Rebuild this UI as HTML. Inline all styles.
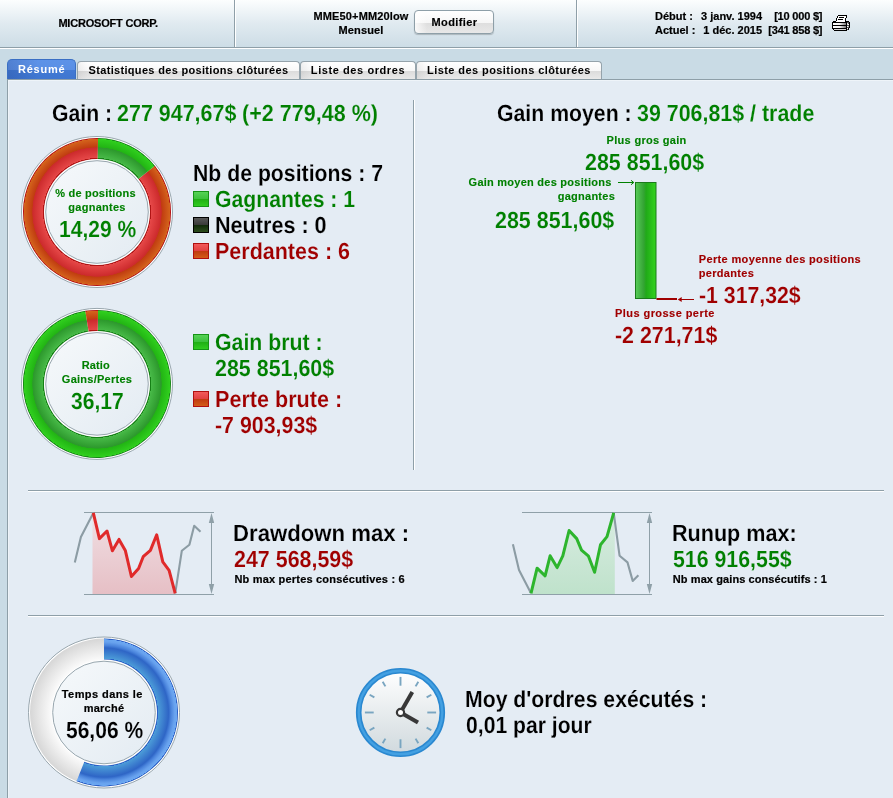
<!DOCTYPE html>
<html><head><meta charset="utf-8"><title>Résumé</title>
<style>
html,body{margin:0;padding:0}
body{width:893px;height:798px;overflow:hidden;background:#c9dbe5;position:relative;font-family:"Liberation Sans",Arial,sans-serif;font-weight:bold}
.s{position:absolute;white-space:nowrap;font-weight:bold;font-size:11px;line-height:14px;-webkit-text-stroke:0.12px}
.b{position:absolute;white-space:nowrap;font-weight:bold;font-size:23.26px;line-height:28px;text-rendering:geometricPrecision;font-kerning:none;transform-origin:0 0}
.g{color:#008000}
#hdr{position:absolute;left:0;top:0;width:893px;height:47px;background:linear-gradient(#fcfefe,#e0eaf0 50%,#cddde6);border-bottom:1px solid #8e9fa8;box-shadow:0 1px 0 #fff}
.vd{position:absolute;top:0;width:1px;height:47px;background:#8e9fa8;box-shadow:1px 0 0 #fff}
#btn{position:absolute;left:414px;top:10px;width:78px;height:22px;border:1px solid #8e9fa8;border-radius:4px;background:linear-gradient(90deg,rgba(255,255,255,.8),rgba(255,255,255,0) 12px),linear-gradient(#ffffff 0%,#f6f6f6 54%,#dedede 55%,#e8e8e8 100%);box-shadow:0 1px 1px rgba(0,0,0,.2);font-size:11px;line-height:22px;text-align:center;letter-spacing:.38px;text-indent:1px;-webkit-text-stroke:.15px}
#panel{position:absolute;left:7px;top:79px;width:886px;height:719px;background:#e4ecf4;border-left:1px solid #8e9fa8;border-top:1px solid #8e9fa8;box-shadow:inset 1px 1px 0 #eef4f9}
.tab{position:absolute;top:61px;height:18px;box-sizing:border-box;border:1px solid #95a3ab;border-bottom:none;border-radius:4px 4px 0 0;font-size:11px;line-height:17px;text-align:center;white-space:nowrap;background:linear-gradient(90deg,rgba(0,0,0,.05),rgba(0,0,0,0) 10px),linear-gradient(#ffffff 0%,#f7f7f7 54%,#dcdcdc 55%,#e9e9e9 100%)}
#tab1{left:7px;top:59px;width:69px;-webkit-text-stroke:0;height:20px;border:1px solid #3a6fc4;border-bottom:none;border-radius:5px 5px 0 0;background:linear-gradient(90deg,rgba(0,0,60,.13),rgba(0,0,60,0) 30px),linear-gradient(#5d93e8 0%,#5a8fe4 53%,#427ad4 54%,#3f76d0 100%);color:#fff;line-height:19px;letter-spacing:.8px;text-indent:.5px}
.sq{position:absolute;width:14px;height:14px;border:1px solid}
.hr{position:absolute;left:28px;width:856px;height:1px;background:#8e9fa8;box-shadow:0 1px 0 #fff}
#vr{position:absolute;left:413px;top:100px;width:1px;height:370px;background:#8e9fa8;box-shadow:1px 0 0 #fff}
svg{position:absolute;left:0;top:0}
</style></head><body>
<div id="hdr"><div class="vd" style="left:234px"></div><div class="vd" style="left:576px"></div></div>
<div id="btn">Modifier</div>
<svg style="position:absolute;left:832px;top:14px" width="19" height="18" viewBox="0 0 19 18" shape-rendering="crispEdges"><defs><linearGradient id="pg" x1="0" x2="1"><stop offset="0" stop-color="#fff"/><stop offset="0.5" stop-color="#f6f6f6"/><stop offset="1" stop-color="#7a7a7a"/></linearGradient></defs><rect x="6" y="1" width="9" height="1" fill="#000"/><rect x="5" y="2" width="1" height="2" fill="#000"/><rect x="6" y="2" width="8" height="2" fill="#fff"/><rect x="14" y="2" width="1" height="2" fill="#000"/><rect x="7" y="3" width="5" height="1" fill="#000"/><rect x="4" y="4" width="1" height="3" fill="#000"/><rect x="5" y="4" width="8" height="3" fill="#fff"/><rect x="13" y="4" width="1" height="3" fill="#000"/><rect x="6" y="5" width="5" height="1" fill="#000"/><rect x="1" y="7" width="3" height="1" fill="#000"/><rect x="4" y="7" width="9" height="1" fill="#fff"/><rect x="13" y="7" width="4" height="1" fill="#000"/><rect x="0" y="8" width="15" height="1" fill="#000"/><rect x="0" y="9" width="1" height="6" fill="#000"/><rect x="14" y="9" width="1" height="7" fill="#000"/><rect x="1" y="9" width="13" height="2" fill="url(#pg)"/><rect x="0" y="11" width="15" height="1" fill="#000"/><rect x="1" y="12" width="13" height="2" fill="url(#pg)"/><rect x="0" y="14" width="15" height="1" fill="#000"/><rect x="1" y="15" width="1" height="1" fill="#000"/><rect x="2" y="15" width="12" height="1" fill="#d8d8d8"/><rect x="2" y="16" width="13" height="1" fill="#000"/><rect x="15" y="8" width="2" height="6" fill="#555"/><rect x="17" y="8" width="1" height="6" fill="#000"/><rect x="15" y="14" width="1" height="2" fill="#555"/><rect x="16" y="14" width="1" height="1" fill="#000"/><rect x="15" y="16" width="0" height="0" fill="#000"/><rect x="16" y="15" width="1" height="1" fill="#000"/><rect x="15" y="9" width="1" height="2" fill="#e0e0e0"/><rect x="16" y="10" width="1" height="1" fill="#fff"/><rect x="15" y="12" width="1" height="1" fill="#fff"/><rect x="16" y="12" width="1" height="1" fill="#bbb"/><rect x="15" y="14" width="1" height="1" fill="#fff"/></svg>
<div id="panel"></div>
<div class="tab" id="tab1">Résumé</div>
<div class="tab" style="left:77px;width:223px;letter-spacing:.32px">Statistiques des positions clôturées</div>
<div class="tab" style="left:300px;width:116px;letter-spacing:.58px">Liste des ordres</div>
<div class="tab" style="left:416px;width:186px;letter-spacing:.42px">Liste des positions clôturées</div>
<div id="vr"></div><div class="hr" style="top:490px"></div><div class="hr" style="top:615px"></div>
<svg width="893" height="798" viewBox="0 0 893 798">
<defs><radialGradient id="d1r" gradientUnits="userSpaceOnUse" cx="97" cy="212" r="74"><stop offset="0.7162" stop-color="#b01414"/><stop offset="0.7284" stop-color="#b01414"/><stop offset="0.7297" stop-color="#e64848"/><stop offset="0.8703" stop-color="#cc2a2c"/><stop offset="0.8757" stop-color="#c03c10"/><stop offset="0.9865" stop-color="#d4641c"/><stop offset="0.9892" stop-color="#b81414"/><stop offset="1.0000" stop-color="#b81414"/></radialGradient><radialGradient id="d1g" gradientUnits="userSpaceOnUse" cx="97" cy="212" r="74"><stop offset="0.7162" stop-color="#168016"/><stop offset="0.7284" stop-color="#168016"/><stop offset="0.7297" stop-color="#48ba48"/><stop offset="0.8703" stop-color="#2c982c"/><stop offset="0.8757" stop-color="#22b414"/><stop offset="0.9865" stop-color="#30d01e"/><stop offset="0.9892" stop-color="#168a16"/><stop offset="1.0000" stop-color="#168a16"/></radialGradient><radialGradient id="d1trk" gradientUnits="userSpaceOnUse" cx="97" cy="212" r="74"><stop offset="0.70" stop-color="#fcfcfc"/><stop offset="1" stop-color="#d6d6d6"/></radialGradient><linearGradient id="d1in" x1="0" y1="0" x2="1" y2="1"><stop offset="0" stop-color="#f6f9fb"/><stop offset="1" stop-color="#e3ebf2"/></linearGradient></defs><circle cx="97" cy="212" r="75.5" fill="#fff" stroke="#98a6ae" stroke-width="1"/><circle cx="97" cy="212" r="74" fill="url(#d1trk)"/><path d="M154.86,165.87A74,74 0 1 1 98.03,138.01L97.74,159.01A53,53 0 1 0 138.44,178.96Z" fill="url(#d1r)"/><path d="M98.03,138.01A74,74 0 0 1 154.86,165.87L138.44,178.96A53,53 0 0 0 97.74,159.01Z" fill="url(#d1g)"/><circle cx="97" cy="212" r="52.5" fill="#fff"/><circle cx="97" cy="212" r="51.3" fill="url(#d1in)" stroke="#98a6ae" stroke-width="1"/>
<defs><radialGradient id="d2g" gradientUnits="userSpaceOnUse" cx="97" cy="383.9" r="74"><stop offset="0.7162" stop-color="#168016"/><stop offset="0.7284" stop-color="#168016"/><stop offset="0.7297" stop-color="#48ba48"/><stop offset="0.8703" stop-color="#2c982c"/><stop offset="0.8757" stop-color="#22b414"/><stop offset="0.9865" stop-color="#30d01e"/><stop offset="0.9892" stop-color="#168a16"/><stop offset="1.0000" stop-color="#168a16"/></radialGradient><radialGradient id="d2r" gradientUnits="userSpaceOnUse" cx="97" cy="383.9" r="74"><stop offset="0.7162" stop-color="#b01414"/><stop offset="0.7284" stop-color="#b01414"/><stop offset="0.7297" stop-color="#e64848"/><stop offset="0.8703" stop-color="#cc2a2c"/><stop offset="0.8757" stop-color="#c03c10"/><stop offset="0.9865" stop-color="#d4641c"/><stop offset="0.9892" stop-color="#b81414"/><stop offset="1.0000" stop-color="#b81414"/></radialGradient><radialGradient id="d2trk" gradientUnits="userSpaceOnUse" cx="97" cy="383.9" r="74"><stop offset="0.70" stop-color="#fcfcfc"/><stop offset="1" stop-color="#d6d6d6"/></radialGradient><linearGradient id="d2in" x1="0" y1="0" x2="1" y2="1"><stop offset="0" stop-color="#f6f9fb"/><stop offset="1" stop-color="#e3ebf2"/></linearGradient></defs><circle cx="97" cy="383.9" r="75.5" fill="#fff" stroke="#98a6ae" stroke-width="1"/><circle cx="97" cy="383.9" r="74" fill="url(#d2trk)"/><path d="M98.03,309.91A74,74 0 1 1 85.30,310.83L88.62,331.57A53,53 0 1 0 97.74,330.91Z" fill="url(#d2g)"/><path d="M85.30,310.83A74,74 0 0 1 98.03,309.91L97.74,330.91A53,53 0 0 0 88.62,331.57Z" fill="url(#d2r)"/><circle cx="97" cy="383.9" r="52.5" fill="#fff"/><circle cx="97" cy="383.9" r="51.3" fill="url(#d2in)" stroke="#98a6ae" stroke-width="1"/>
<defs><radialGradient id="d3b" gradientUnits="userSpaceOnUse" cx="104" cy="712.5" r="74"><stop offset="0.7162" stop-color="#2a62c8"/><stop offset="0.7284" stop-color="#2a62c8"/><stop offset="0.7297" stop-color="#4c9cd8"/><stop offset="0.8703" stop-color="#2f66c6"/><stop offset="0.8757" stop-color="#3068c8"/><stop offset="0.9068" stop-color="#4a84dc"/><stop offset="0.9541" stop-color="#68a2ee"/><stop offset="0.9865" stop-color="#6ba8f2"/><stop offset="0.9892" stop-color="#2a60c8"/><stop offset="1.0000" stop-color="#2a60c8"/></radialGradient><radialGradient id="d3trk" gradientUnits="userSpaceOnUse" cx="104" cy="712.5" r="74"><stop offset="0.70" stop-color="#fcfcfc"/><stop offset="1" stop-color="#d6d6d6"/></radialGradient><linearGradient id="d3in" x1="0" y1="0" x2="1" y2="1"><stop offset="0" stop-color="#f6f9fb"/><stop offset="1" stop-color="#e3ebf2"/></linearGradient></defs><circle cx="104" cy="712.5" r="75.5" fill="#fff" stroke="#98a6ae" stroke-width="1"/><circle cx="104" cy="712.5" r="74" fill="url(#d3trk)"/><path d="M104.00,638.50A74,74 0 1 1 76.52,781.21L84.32,761.71A53,53 0 1 0 104.00,659.50Z" fill="url(#d3b)"/><circle cx="104" cy="712.5" r="52.5" fill="#fff"/><circle cx="104" cy="712.5" r="51.3" fill="url(#d3in)" stroke="#98a6ae" stroke-width="1"/>
<defs><linearGradient id="bar" x1="0" x2="1" y1="0" y2="0"><stop offset="0" stop-color="#58cc58"/><stop offset="0.40" stop-color="#34a434"/><stop offset="0.52" stop-color="#20aa18"/><stop offset="1" stop-color="#34d41e"/></linearGradient></defs>
<rect x="635.5" y="182.5" width="20.5" height="116" fill="url(#bar)" stroke="#1a7a1a" stroke-width="1"/>
<rect x="656.5" y="298" width="20.5" height="2" fill="#a00000"/>
<path d="M618,182.5H633.5M631,180.3L633.8,182.5L631,184.7" fill="none" stroke="#008000" stroke-width="1"/>
<path d="M694,299.5H679" fill="none" stroke="#a00000" stroke-width="1"/><path d="M677.7,299.5L681.7,297V302Z" fill="#a00000"/>
<defs><linearGradient id="ddf" x1="0" x2="0" y1="0" y2="1"><stop offset="0" stop-color="#f0e0e4"/><stop offset="1" stop-color="#e6bfc5"/></linearGradient><linearGradient id="ruf" x1="0" x2="0" y1="0" y2="1"><stop offset="0" stop-color="#d9ece2"/><stop offset="1" stop-color="#bfe2cb"/></linearGradient></defs>
<polygon points="93.3,512.9 99.4,538.6 107,531 112.4,550.8 119,539.4 125.3,550.4 131.4,576.5 138.6,568.5 143.2,556.7 150.4,550.4 156.7,534.8 162.8,561.9 169.1,570.4 175.2,593.3 175.2,594 92.5,594 92.5,513" fill="url(#ddf)"/><path d="M84,512.5H214M84,594.5H214" stroke="#8fa0a8" stroke-width="1" fill="none"/><path d="M211.5,520V587" stroke="#8fa0a8" stroke-width="1" fill="none"/><path d="M211.5,513L208.8,523H214.2ZM211.5,594L208.8,584H214.2Z" fill="#8fa0a8"/><polyline points="74.8,562.4 80.9,537.1 93.3,512.9" fill="none" stroke="#8c9ca4" stroke-width="2.1" stroke-linejoin="round"/><polyline points="175.2,593.3 181.8,550.8 189.4,544.7 194.2,525.7 200.5,531.8" fill="none" stroke="#8c9ca4" stroke-width="2.1" stroke-linejoin="round"/><polyline points="93.3,512.9 99.4,538.6 107,531 112.4,550.8 119,539.4 125.3,550.4 131.4,576.5 138.6,568.5 143.2,556.7 150.4,550.4 156.7,534.8 162.8,561.9 169.1,570.4 175.2,593.3" fill="none" stroke="#e02a2a" stroke-width="3" stroke-linejoin="round" stroke-linecap="butt"/>
<polygon points="531,593.3 537.1,568.2 545.1,575.8 550.1,555.8 557.1,567.6 562.8,555.8 569.1,530.5 576.7,538.6 581.5,550.1 588.5,556.2 594.6,572.3 600.5,544.7 607,536.6 613.7,512.9 614.8,513 614.8,594 531,594" fill="url(#ruf)"/><path d="M522,512.5H652M522,594.5H652" stroke="#8fa0a8" stroke-width="1" fill="none"/><path d="M649.5,520V587" stroke="#8fa0a8" stroke-width="1" fill="none"/><path d="M649.5,513L646.8,523H652.2ZM649.5,594L646.8,584H652.2Z" fill="#8fa0a8"/><polyline points="512.9,544.2 519,569.9 531,593.3" fill="none" stroke="#8c9ca4" stroke-width="2.1" stroke-linejoin="round"/><polyline points="613.7,512.9 619.6,555.8 627.5,562.4 632.7,580.9 638.4,575.2" fill="none" stroke="#8c9ca4" stroke-width="2.1" stroke-linejoin="round"/><polyline points="531,593.3 537.1,568.2 545.1,575.8 550.1,555.8 557.1,567.6 562.8,555.8 569.1,530.5 576.7,538.6 581.5,550.1 588.5,556.2 594.6,572.3 600.5,544.7 607,536.6 613.7,512.9" fill="none" stroke="#2db52d" stroke-width="3" stroke-linejoin="round" stroke-linecap="butt"/>
<defs><linearGradient id="cf" x1="0" x2="0" y1="0" y2="1"><stop offset="0" stop-color="#ffffff"/><stop offset="1" stop-color="#d0d9dd"/></linearGradient></defs><circle cx="400.5" cy="712.5" r="41.8" fill="url(#cf)" stroke="#2a88d0" stroke-width="5.6"/><circle cx="400.5" cy="712.5" r="41.8" fill="none" stroke="#43a0e2" stroke-width="2.4"/><line x1="400.50" y1="685.70" x2="400.50" y2="676.90" stroke="#79a5c0" stroke-width="1.9"/><line x1="415.60" y1="686.35" x2="418.30" y2="681.67" stroke="#79a5c0" stroke-width="1.9"/><line x1="426.65" y1="697.40" x2="431.33" y2="694.70" stroke="#79a5c0" stroke-width="1.9"/><line x1="427.30" y1="712.50" x2="436.10" y2="712.50" stroke="#79a5c0" stroke-width="1.9"/><line x1="426.65" y1="727.60" x2="431.33" y2="730.30" stroke="#79a5c0" stroke-width="1.9"/><line x1="415.60" y1="738.65" x2="418.30" y2="743.33" stroke="#79a5c0" stroke-width="1.9"/><line x1="400.50" y1="739.30" x2="400.50" y2="748.10" stroke="#79a5c0" stroke-width="1.9"/><line x1="385.40" y1="738.65" x2="382.70" y2="743.33" stroke="#79a5c0" stroke-width="1.9"/><line x1="374.35" y1="727.60" x2="369.67" y2="730.30" stroke="#79a5c0" stroke-width="1.9"/><line x1="373.70" y1="712.50" x2="364.90" y2="712.50" stroke="#79a5c0" stroke-width="1.9"/><line x1="374.35" y1="697.40" x2="369.67" y2="694.70" stroke="#79a5c0" stroke-width="1.9"/><line x1="385.40" y1="686.35" x2="382.70" y2="681.67" stroke="#79a5c0" stroke-width="1.9"/><line x1="400.5" y1="712.5" x2="412.3" y2="692" stroke="#383838" stroke-width="4"/><line x1="400.5" y1="712.5" x2="418" y2="722.6" stroke="#383838" stroke-width="4"/><circle cx="400.5" cy="712.5" r="3.6" fill="#fff" stroke="#383838" stroke-width="2.2"/>
</svg>
<div class="b" style="left:52.43px;top:99px;color:#000;transform:scaleX(0.9121);-webkit-text-stroke:0.14px #e4ecf4">Gain :</div>
<div class="b" style="left:117.06px;top:99px;color:#008000;transform:scaleX(0.9235);-webkit-text-stroke:0.14px #e4ecf4">277 947,67$</div>
<div class="b" style="left:241.93px;top:99px;color:#008000;transform:scaleX(0.9270);-webkit-text-stroke:0.14px #e4ecf4">(+2 779,48 %)</div>
<div class="b" style="left:497.23px;top:99px;color:#000;transform:scaleX(0.9143);-webkit-text-stroke:0.14px #e4ecf4">Gain moyen :</div>
<div class="b" style="left:636.61px;top:99px;color:#008000;transform:scaleX(0.9208);-webkit-text-stroke:0.14px #e4ecf4">39 706,81$ / trade</div>
<div class="b" style="left:192.98px;top:159px;color:#000;transform:scaleX(0.9135);-webkit-text-stroke:0.14px #e4ecf4">Nb de positions : 7</div>
<div class="b" style="left:215.23px;top:185px;color:#008000;transform:scaleX(0.9112);-webkit-text-stroke:0.14px #e4ecf4">Gagnantes : 1</div>
<div class="b" style="left:214.66px;top:211px;color:#000;transform:scaleX(0.9286);-webkit-text-stroke:0.14px #e4ecf4">Neutres : 0</div>
<div class="b" style="left:214.66px;top:237px;color:#a00000;transform:scaleX(0.9243);-webkit-text-stroke:0.14px #e4ecf4">Perdantes : 6</div>
<div class="sq" style="left:193px;top:191px;background:linear-gradient(#56d256 0%,#3cc03c 50%,#20ae14 50%,#30cc20 100%);border-color:#169416"></div>
<div class="sq" style="left:193px;top:217px;background:linear-gradient(#585858 0%,#383838 50%,#10280a 50%,#2c4c1c 100%);border-color:#000"></div>
<div class="sq" style="left:193px;top:243px;background:linear-gradient(#f25a5a 0%,#e04040 50%,#c03a10 50%,#d25c18 100%);border-color:#b01010"></div>
<div class="b" style="left:215.23px;top:328px;color:#008000;transform:scaleX(0.9161);-webkit-text-stroke:0.14px #e4ecf4">Gain brut :</div>
<div class="b" style="left:215.36px;top:354px;color:#008000;transform:scaleX(0.9219);-webkit-text-stroke:0.14px #e4ecf4">285 851,60$</div>
<div class="b" style="left:214.66px;top:385px;color:#a00000;transform:scaleX(0.9286);-webkit-text-stroke:0.14px #e4ecf4">Perte brute :</div>
<div class="b" style="left:215.26px;top:411px;color:#a00000;transform:scaleX(0.9192);-webkit-text-stroke:0.14px #e4ecf4">-7 903,93$</div>
<div class="sq" style="left:193px;top:334px;background:linear-gradient(#56d256 0%,#3cc03c 50%,#20ae14 50%,#30cc20 100%);border-color:#169416"></div>
<div class="sq" style="left:193px;top:391px;background:linear-gradient(#f25a5a 0%,#e04040 50%,#c03a10 50%,#d25c18 100%);border-color:#b01010"></div>
<div class="b" style="left:58.57px;top:215px;color:#008000;transform:scaleX(0.9055);-webkit-text-stroke:0.14px #e4ecf4">14,29 %</div>
<div class="b" style="left:70.62px;top:387px;color:#008000;transform:scaleX(0.9073);-webkit-text-stroke:0.14px #e4ecf4">36,17</div>
<div class="b" style="left:65.65px;top:716px;color:#000;transform:scaleX(0.9033);-webkit-text-stroke:0.14px #e4ecf4">56,06 %</div>
<div class="b" style="left:585.36px;top:148px;color:#008000;transform:scaleX(0.9219);-webkit-text-stroke:0.14px #e4ecf4">285 851,60$</div>
<div class="b" style="left:495.46px;top:206px;color:#008000;transform:scaleX(0.9227);-webkit-text-stroke:0.14px #e4ecf4">285 851,60$</div>
<div class="b" style="left:698.57px;top:281px;color:#a00000;transform:scaleX(0.9147);-webkit-text-stroke:0.14px #e4ecf4">-1 317,32$</div>
<div class="b" style="left:614.56px;top:321px;color:#a00000;transform:scaleX(0.9201);-webkit-text-stroke:0.14px #e4ecf4">-2 271,71$</div>
<div class="b" style="left:233.42px;top:519px;color:#000;transform:scaleX(0.9535);-webkit-text-stroke:0.14px #e4ecf4">Drawdown max :</div>
<div class="b" style="left:234.16px;top:545px;color:#a00000;transform:scaleX(0.9219);-webkit-text-stroke:0.14px #e4ecf4">247 568,59$</div>
<div class="b" style="left:671.86px;top:519px;color:#000;transform:scaleX(0.9273);-webkit-text-stroke:0.14px #e4ecf4">Runup max:</div>
<div class="b" style="left:672.64px;top:545px;color:#008000;transform:scaleX(0.9173);-webkit-text-stroke:0.14px #e4ecf4">516 916,55$</div>
<div class="b" style="left:465.18px;top:685px;color:#000;transform:scaleX(0.9130);-webkit-text-stroke:0.14px #e4ecf4">Moy d'ordres exécutés :</div>
<div class="b" style="left:465.76px;top:711px;color:#000;transform:scaleX(0.9092);-webkit-text-stroke:0.14px #e4ecf4">0,01 par jour</div>
<div class="s" style="top:186px;color:#008000;letter-spacing:0.2px;left:-104.50px;width:400px;text-align:center;">% de positions</div>
<div class="s" style="top:200px;color:#008000;letter-spacing:0.25px;left:-103.00px;width:400px;text-align:center;">gagnantes</div>
<div class="s" style="top:358px;color:#008000;letter-spacing:0.1px;left:-104.30px;width:400px;text-align:center;">Ratio</div>
<div class="s" style="top:372px;color:#008000;letter-spacing:0.25px;left:-103.00px;width:400px;text-align:center;">Gains/Pertes</div>
<div class="s" style="top:687px;color:#000;-webkit-text-stroke:.2px;letter-spacing:0.42px;left:-97.70px;width:400px;text-align:center;">Temps dans le</div>
<div class="s" style="top:701px;color:#000;-webkit-text-stroke:.2px;letter-spacing:0.25px;left:-96.00px;width:400px;text-align:center;">marché</div>
<div class="s" style="top:133px;color:#008000;letter-spacing:0.3px;left:606.60px;">Plus gros gain</div>
<div class="s" style="top:175px;color:#008000;letter-spacing:0.25px;right:281.50px;">Gain moyen des positions</div>
<div class="s" style="top:189px;color:#008000;letter-spacing:0.25px;right:278.00px;">gagnantes</div>
<div class="s" style="top:252px;color:#a00000;letter-spacing:0.35px;left:698.80px;">Perte moyenne des positions</div>
<div class="s" style="top:266px;color:#a00000;letter-spacing:0.3px;left:698.80px;">perdantes</div>
<div class="s" style="top:306px;color:#a00000;letter-spacing:0.44px;left:615.00px;">Plus grosse perte</div>
<div class="s" style="top:572px;color:#000;-webkit-text-stroke:.2px;letter-spacing:0.2px;left:234.40px;">Nb max pertes consécutives : 6</div>
<div class="s" style="top:572px;color:#000;-webkit-text-stroke:.2px;letter-spacing:0.09px;left:672.80px;">Nb max gains consécutifs : 1</div>
<div class="s" style="top:16px;color:#000;-webkit-text-stroke:.2px;letter-spacing:-0.2px;left:58.40px;">MICROSOFT CORP.</div>
<div class="s" style="top:9px;color:#000;-webkit-text-stroke:.2px;letter-spacing:0.15px;left:161.00px;width:400px;text-align:center;">MME50+MM20low</div>
<div class="s" style="top:23px;color:#000;-webkit-text-stroke:.2px;letter-spacing:0.15px;left:161.00px;width:400px;text-align:center;">Mensuel</div>
<div class="s" style="top:9px;color:#000;-webkit-text-stroke:.2px;left:655.00px;">Début :</div>
<div class="s" style="top:9px;color:#000;-webkit-text-stroke:.2px;right:131.00px;">3 janv. 1994</div>
<div class="s" style="top:9px;color:#000;-webkit-text-stroke:.2px;letter-spacing:-0.2px;right:70.70px;">[10 000 $]</div>
<div class="s" style="top:23px;color:#000;-webkit-text-stroke:.2px;left:655.00px;">Actuel :</div>
<div class="s" style="top:23px;color:#000;-webkit-text-stroke:.2px;right:131.00px;">1 déc. 2015</div>
<div class="s" style="top:23px;color:#000;-webkit-text-stroke:.2px;letter-spacing:-0.2px;right:70.70px;">[341 858 $]</div>
</body></html>
